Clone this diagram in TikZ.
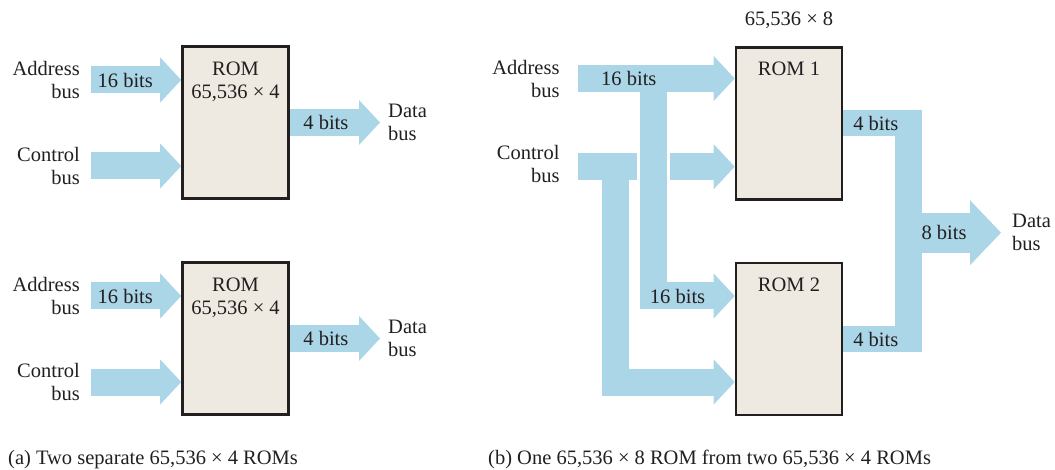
\documentclass[tikz,border=0pt]{standalone}
\usepackage{fontspec}
\setmainfont{Liberation Serif}
\usetikzlibrary{arrows.meta, positioning}

\definecolor{busblue}{RGB}{171,214,232}
\definecolor{romfill}{RGB}{238,234,225}
\definecolor{ink}{RGB}{35,31,32}

\begin{document}
\begin{tikzpicture}[x=1pt, y=-1pt,
    font=\fontsize{20.5}{23}\selectfont,
    rom/.style={draw=ink, line width=2.6pt, fill=romfill, minimum width=106pt, minimum height=152pt, inner sep=0pt},
    romtext/.style={align=center, inner sep=0pt, text=ink},
    bus/.style={color=busblue, line width=27pt, -{Triangle[width=45pt, length=21pt, line width=0pt]}},
    widebus/.style={color=busblue, line width=40pt, -{Triangle[width=65pt, length=31pt, line width=0pt]}},
    busname/.style={inner sep=0pt, text=ink},
    bits/.style={inner sep=0pt, text=ink}]
    \useasboundingbox (0,0) rectangle (1055,470);

    % (a) ROM boxes
    \node[rom] (romA) at (235.5,122.75) {};
    \node[romtext, below=16pt of romA.north] {ROM\\65,536 × 4};
    \node[rom] (romB) at (235.5,338.75) {};
    \node[romtext, below=16pt of romB.north] {ROM\\65,536 × 4};

    % (a) Buses, top
    \coordinate (addrA) at (91,80);
    \coordinate (ctlA) at (91,166);
    \draw[bus] (addrA) -- (romA.west |- addrA) node[pos=0.38, bits] {16 bits};
    \draw[bus] (ctlA) -- (romA.west |- ctlA);
    \draw[bus] (romA.east |- 0,122.5) -- (380,122.5) coordinate (dataA) node[pos=0.4, bits] {4 bits};
    \node[busname, align=right, left=11pt of addrA] {Address\\bus};
    \node[busname, align=right, left=11pt of ctlA] {Control\\bus};
    \node[busname, align=left, right=8pt of dataA] {Data\\bus};

    % (a) Buses, bottom
    \coordinate (addrB) at (91,296);
    \coordinate (ctlB) at (91,382);
    \draw[bus] (addrB) -- (romB.west |- addrB) node[pos=0.38, bits] {16 bits};
    \draw[bus] (ctlB) -- (romB.west |- ctlB);
    \draw[bus] (romB.east |- 0,338.5) -- (380,338.5) coordinate (dataB) node[pos=0.4, bits] {4 bits};
    \node[busname, align=right, left=11pt of addrB] {Address\\bus};
    \node[busname, align=right, left=11pt of ctlB] {Control\\bus};
    \node[busname, align=left, right=8pt of dataB] {Data\\bus};

    % (b) ROM boxes
    \node[rom] (rom1) at (789,123.3) {};
    \node[romtext, below=16pt of rom1.north] {ROM 1};
    \node[romtext, above=17pt of rom1.north] {65,536 × 8};
    \node[rom] (rom2) at (789,339) {};
    \node[romtext, below=16pt of rom2.north] {ROM 2};

    % (b) Control bus
    \coordinate (ctlC) at (577.7,166.7);
    \draw[bus] (ctlC) -- (rom1.west |- ctlC);
    \draw[bus] (615.2,166.7) -- (615.2,382) -- (rom2.west |- 0,382);

    % (b) Address bus, crossing over the control bus
    \coordinate (addrC) at (577.7,78.5);
    \draw[white, line width=33pt] (653.3,95) -- (653.3,250);
    \draw[bus] (653.3,78.5) -- (653.3,296) -- (rom2.west |- 0,296)
        node[pos=1, anchor=east, xshift=-16pt, bits] {16 bits};
    \draw[bus] (addrC) -- (rom1.west |- addrC) node[pos=0, anchor=west, xshift=10pt, bits] {16 bits};
    \node[busname, align=right, left=18pt of addrC] {Address\\bus};
    \node[busname, align=right, left=18pt of ctlC, yshift=3pt] {Control\\bus};

    % (b) Data bus
    \draw[color=busblue, line width=26.7pt] (rom1.east |- 0,123) -- (908.3,123) node[midway, bits] {4 bits}
        -- (908.3,339) -- (rom2.east |- 0,339) node[midway, bits] {4 bits};
    \draw[widebus] (908.3,232.7) -- (1001,232.7) coordinate (dataC) node[pos=0.385, bits] {8 bits};
    \node[busname, align=left, right=11pt of dataC] {Data\\bus};

    % Captions
    \node[anchor=base west, inner sep=0pt, text=ink] at (8,464) {(a) Two separate 65,536 × 4 ROMs};
    \node[anchor=base west, inner sep=0pt, text=ink] at (488,464) {(b) One 65,536 × 8 ROM from two 65,536 × 4 ROMs};
\end{tikzpicture}
\end{document}
